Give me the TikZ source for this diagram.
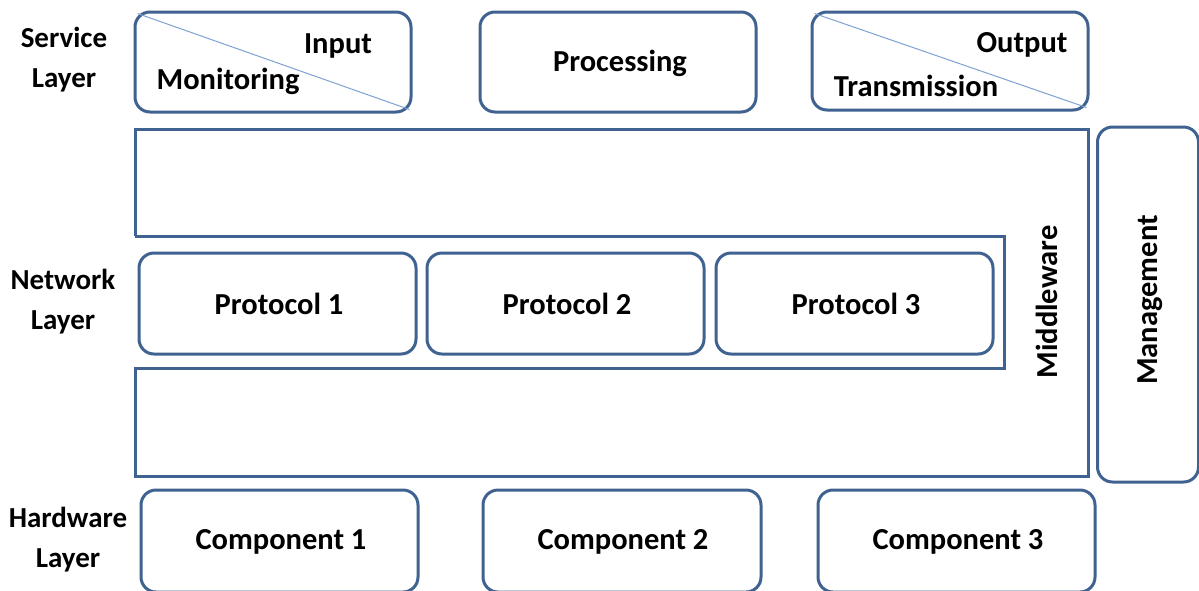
\documentclass[tikz,border=0pt]{standalone}
\usepackage{fontspec}
\setmainfont{Carlito}
\definecolor{edge}{HTML}{3F6290}
\definecolor{diag}{HTML}{7FA2D2}
\begin{document}
\begin{tikzpicture}[x=1pt,y=-1pt,
  box/.style={draw=edge,line width=3pt,rounded corners=15pt,rectangle,inner sep=0pt},
  txt/.style={font=\fontsize{30.5}{36}\selectfont\bfseries,inner sep=0pt},
  lbl/.style={font=\fontsize{29}{40}\selectfont\bfseries,align=center,inner sep=0pt}]
\clip (0,0) rectangle (1199,590);
\fill[white] (0,0) rectangle (1199,590);
% service layer
\node[box,minimum width=276pt,minimum height=100pt] (inbox) at (273,62) {};
\node[box,minimum width=276pt,minimum height=100pt] (proc) at (618,62) {};
\node[box,minimum width=276pt,minimum height=98pt] (outbox) at (950,61) {};
\draw[diag,line width=1pt] ([shift={(4pt,-3pt)}]inbox.north west) -- ([shift={(-3pt,4pt)}]inbox.south east);
\draw[diag,line width=1pt] ([shift={(4pt,-3pt)}]outbox.north west) -- ([shift={(-3pt,4pt)}]outbox.south east);
\node[txt] (input) at (338,46) {Input};
\node[txt] (monit) at (228,81) {Monitoring};
\node[txt] (ptext) at (620,63) {Processing};
\node[txt] (output) at (1022,45) {Output};
\node[txt] (trans) at (916,86) {Transmission};
% middleware
\draw[edge,line width=3pt] (135,236) -- (135,129) -- (1088,129) -- (1088,476) -- (135,476) -- (135,368) -- (1004,368) -- (1004,236) -- (135,236);
\node[txt,rotate=90] (mw) at (1047,302) {Middleware};
\node[box,minimum width=101pt,minimum height=355pt] (mgmt) at (1148,304.5) {};
\node[txt,rotate=90] (mgtxt) at (1150,300) {Management};
% protocols
\node[box,minimum width=277pt,minimum height=101pt] (p1) at (277.5,303.5) {};
\node[box,minimum width=277pt,minimum height=101pt] (p2) at (565.5,303.5) {};
\node[box,minimum width=277pt,minimum height=101pt] (p3) at (854.5,303.5) {};
\node[txt] at (279,304) {Protocol 1};
\node[txt] at (567,304) {Protocol 2};
\node[txt] at (856,304) {Protocol 3};
% components
\node[box,minimum width=277pt,minimum height=102pt] (c1) at (279.5,541) {};
\node[box,minimum width=278pt,minimum height=102pt] (c2) at (622,541) {};
\node[box,minimum width=277pt,minimum height=102pt] (c3) at (956.5,541) {};
\node[txt] at (281,542) {Component 1};
\node[txt] at (623,542) {Component 2};
\node[txt] at (958,542) {Component 3};
% layer labels
\node[lbl] (sl) at (64,60) {Service\\Layer};
\node[lbl] (nl) at (63,302) {Network\\Layer};
\node[lbl] (hl) at (68,540) {Hardware\\Layer};
\end{tikzpicture}
\end{document}
